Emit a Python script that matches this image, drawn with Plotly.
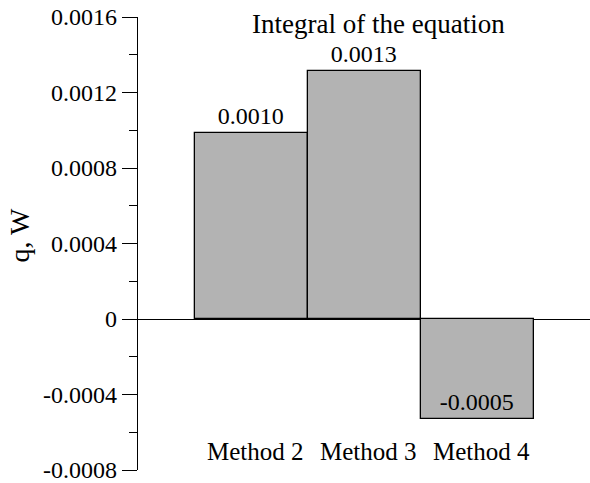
import plotly.graph_objects as go

categories = ["Method 2", "Method 3", "Method 4"]
values = [0.000985, 0.001314, -0.00053]
value_labels = ["0.0010", "0.0013", "-0.0005"]
tick_vals = [0.0016, 0.0012, 0.0008, 0.0004, 0, -0.0004, -0.0008]
tick_text = ["0.0016", "0.0012", "0.0008", "0.0004", "0", "-0.0004", "-0.0008"]
title_text = "Integral of the equation"
y_title = "q, W"

FONT = "Liberation Serif"
positions = list(range(len(categories)))

fig = go.Figure()
fig.add_trace(go.Bar(
    x=positions, y=values, width=1.0,
    marker=dict(color="#b3b3b3", line=dict(color="black", width=1.3)),
    text=value_labels,
    textposition=["outside", "outside", "inside"],
    insidetextanchor="end",
    textfont=dict(family=FONT, size=24, color="black"),
    cliponaxis=False,
    constraintext="none",
))

for i, c in enumerate(categories):
    fig.add_annotation(x=i, y=-0.00070, xref="x", yref="y", text=c, showarrow=False,
                       xshift=4, font=dict(family=FONT, size=25, color="black"),
                       xanchor="center", yanchor="middle")

fig.add_annotation(x=0.531, y=0.985, xref="paper", yref="paper", text=title_text,
                   showarrow=False, xanchor="center", yanchor="middle",
                   font=dict(family=FONT, size=27, color="black"))
fig.add_annotation(x=-0.263, y=0.518, xref="paper", yref="paper", text=y_title,
                   showarrow=False, xanchor="center", yanchor="middle", textangle=-90,
                   font=dict(family=FONT, size=28, color="black"))

fig.update_layout(
    width=590, height=483,
    margin=dict(l=138, r=0, t=17, b=13),
    plot_bgcolor="white", paper_bgcolor="white",
    showlegend=False, bargap=0,
    font=dict(family=FONT, color="black"),
    xaxis=dict(range=[-1, 3], showticklabels=False, ticks="", showgrid=False,
               zeroline=False, showline=False),
    yaxis=dict(range=[-0.0008, 0.0016], tickvals=tick_vals, ticktext=tick_text,
               ticks="outside", ticklen=15, tickwidth=1.3, tickcolor="black",
               showline=True, linecolor="black", linewidth=1.3,
               showgrid=False, zeroline=True, zerolinecolor="black", zerolinewidth=1.3,
               ticklabeloverflow="allow", automargin=False,
               tickfont=dict(family=FONT, size=24, color="black"),
               minor=dict(dtick=0.0002, tick0=0, ticks="outside", ticklen=8,
                          tickwidth=1.3, tickcolor="black", showgrid=False)),
)

fig.write_html("out.html")
